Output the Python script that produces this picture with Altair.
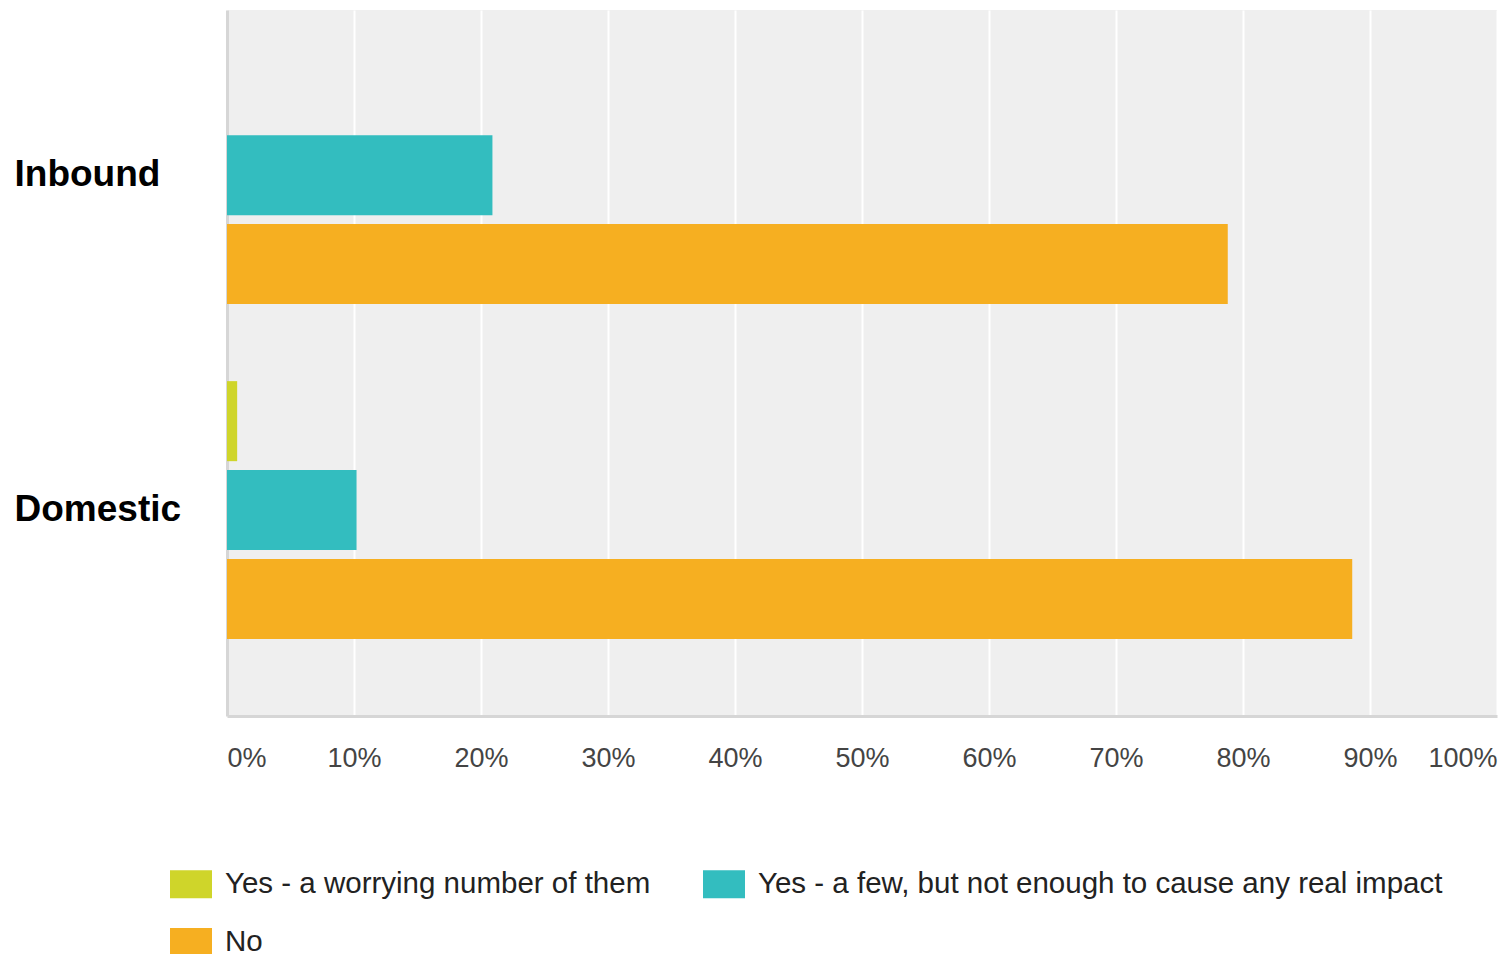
import altair as alt
import pandas as pd

categories = ["Inbound", "Domestic"]
series = [
    "Yes - a worrying number of them",
    "Yes - a few, but not enough to cause any real impact",
    "No",
]
inbound_values = [0.0, 20.9, 78.8]
domestic_values = [0.8, 10.2, 88.6]
colors = ["#cfd52a", "#33bdbf", "#f6af21"]

rows = []
for cat, vals in zip(categories, [inbound_values, domestic_values]):
    for s, v in zip(series, vals):
        rows.append({"category": cat, "series": s, "value": v / 100.0})
df = pd.DataFrame(rows)

FONT = "Liberation Sans"

chart = (
    alt.Chart(df)
    .mark_bar()
    .encode(
        x=alt.X(
            "value:Q",
            scale=alt.Scale(domain=[0, 1], nice=False),
            axis=alt.Axis(
                format=".0%",
                values=[i / 10 for i in range(11)],
                title=None,
                grid=True,
                gridColor="#ffffff",
                gridWidth=2,
                domain=True,
                domainColor="#d6d6d6",
                domainWidth=3,
                ticks=False,
                tickSize=0,
                labelPadding=29,
                labelFlush=True,
                labelFont=FONT,
                labelFontSize=27,
                labelColor="#444444",
            ),
        ),
        y=alt.Y(
            "category:N",
            sort=categories,
            scale=alt.Scale(paddingInner=0.23, paddingOuter=0.169, align=0.32),
            axis=alt.Axis(
                title=None,
                domain=True,
                domainColor="#d6d6d6",
                domainWidth=3,
                ticks=False,
                tickSize=0,
                labelPadding=213,
                labelAlign="left",
                labelLimit=400,
                labelFont=FONT,
                labelFontSize=37,
                labelFontWeight="bold",
                labelColor="#000000",
                grid=False,
            ),
        ),
        yOffset=alt.YOffset(
            "series:N",
            sort=series,
            scale=alt.Scale(paddingInner=0.1, paddingOuter=0),
        ),
        color=alt.Color(
            "series:N",
            sort=series,
            scale=alt.Scale(domain=series, range=colors),
            legend=alt.Legend(
                title=None,
                orient="none",
                legendX=-57,
                legendY=853,
                direction="horizontal",
                columns=2,
                columnPadding=52,
                rowPadding=22,
                padding=0,
                symbolType="M-1,-0.667L1,-0.667L1,0.667L-1,0.667Z",
                symbolSize=1764,
                symbolStrokeWidth=0,
                symbolOpacity=1,
                labelOffset=13,
                labelFont=FONT,
                labelFontSize=29.5,
                labelColor="#222222",
                labelLimit=800,
            ),
        ),
    )
    .properties(
        width=1270,
        height=706,
        autosize="none",
        padding={"left": 219, "top": 2, "right": 2, "bottom": 260},
    )
    .configure_view(fill="#efefef", stroke=None)
)

chart.save("out.html", embed_options={"renderer": "svg", "actions": False})
